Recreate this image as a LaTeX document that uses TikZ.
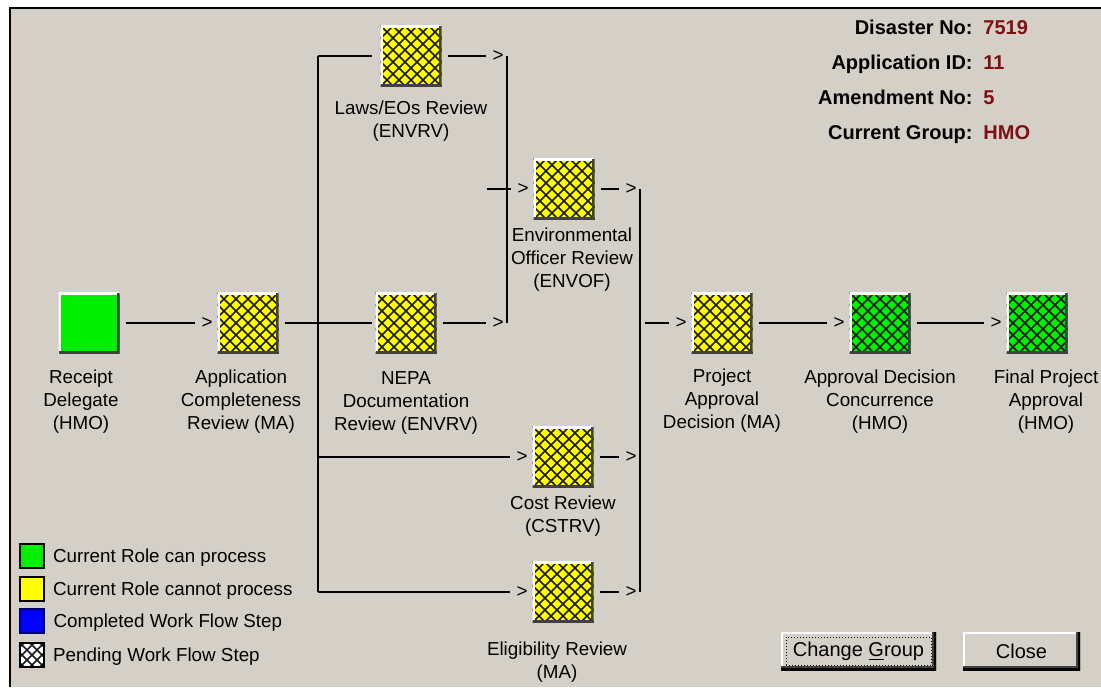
\documentclass[tikz,border=0pt]{standalone}
\usepackage{fontspec}
\setmainfont{Liberation Sans}
\usetikzlibrary{positioning}

\definecolor{winbg}{RGB}{212,208,200}
\definecolor{stepgreen}{RGB}{0,238,0}
\definecolor{stepyellow}{RGB}{255,255,0}
\definecolor{stepblue}{RGB}{0,0,255}
\definecolor{stepnavy}{RGB}{0,0,110}
\definecolor{shadowgray}{RGB}{64,64,64}
\definecolor{valred}{RGB}{128,16,16}

\newcommand{\stephatch}[1]{%
  \foreach \k in {-6,...,6}{%
    \draw[black!90, line width=0.85pt] ([shift={({\k*#1-24pt},-24pt)}]path picture bounding box.center) -- ++(48pt,48pt);
    \draw[black!90, line width=0.85pt] ([shift={({\k*#1-24pt},24pt)}]path picture bounding box.center) -- ++(48pt,-48pt);}}
\newcommand{\stepbevel}{%
  \draw[white, line width=2.5pt] (path picture bounding box.south west) -- (path picture bounding box.north west) -- (path picture bounding box.north east);
  \draw[shadowgray, line width=3pt] (path picture bounding box.north east) -- (path picture bounding box.south east) -- (path picture bounding box.south west);}
\newcommand{\btnbevel}{%
  \draw[white, line width=2pt] (path picture bounding box.south west) -- (path picture bounding box.north west) -- (path picture bounding box.north east);
  \draw[shadowgray, line width=4pt] (path picture bounding box.north east) -- (path picture bounding box.south east) -- (path picture bounding box.south west);
  \draw[black, line width=2pt] (path picture bounding box.north east) -- (path picture bounding box.south east) -- (path picture bounding box.south west);}

\begin{document}
\begin{tikzpicture}[x=0.5pt, y=-0.5pt, every node/.style={font=\fontsize{9.4}{11.5}\selectfont},
  stepbox/.style={minimum size=30.5pt, inner sep=0pt},
  plainstep/.style={stepbox, path picture={\stepbevel}},
  hatchstep/.style={stepbox, path picture={\stephatch{6pt}\stepbevel}},
  lbl/.style={align=center, inner sep=0pt},
  gt/.style={inner sep=0pt},
  link/.style={line width=0.75pt, shorten <=3pt, shorten >=3pt},
  wire/.style={line width=0.75pt},
  info/.style={font=\fontsize{10}{12}\selectfont\bfseries, inner sep=0pt, text height=7pt, text depth=0pt},
  swatch/.style={minimum size=12pt, inner sep=0pt, draw=black, line width=0.75pt},
  keytext/.style={inner sep=0pt, text height=6.8pt, text depth=0pt},
  btn/.style={font=\fontsize{10}{12}\selectfont, fill=winbg, minimum height=19pt, inner sep=0pt, path picture={\btnbevel}}]
	\useasboundingbox (0,0) rectangle (1101,687);
	\fill[white] (0,0) rectangle (1101,687);
	\fill[winbg] (10,8) rectangle (1101,687);
	\draw[line width=1pt] (10,687) -- (10,8) -- (1101,8);
	% steps
	\node[plainstep, fill=stepgreen] (rd) at (89,323) {};
	\node[hatchstep, fill=stepyellow] (acr) at (248,323) {};
	\node[hatchstep, fill=stepyellow] (laws) at (411,56) {};
	\node[hatchstep, fill=stepyellow] (nepa) at (406,323) {};
	\node[hatchstep, fill=stepyellow] (envof) at (564,189) {};
	\node[hatchstep, fill=stepyellow] (cost) at (563,457) {};
	\node[hatchstep, fill=stepyellow] (elig) at (563,592) {};
	\node[hatchstep, fill=stepyellow] (pad) at (722,323) {};
	\node[hatchstep, fill=stepgreen] (adc) at (880,323) {};
	\node[hatchstep, fill=stepgreen] (fpa) at (1037,323) {};
	\node[lbl, below=8pt of rd, xshift=-4pt] (rdL) {Receipt\\Delegate\\(HMO)};
	\node[lbl, below=8pt of acr, xshift=-3.5pt] (acrL) {Application\\Completeness\\Review (MA)};
	\node[lbl, below=7pt of laws] (lawsL) {Laws/EOs Review\\(ENVRV)};
	\node[lbl, below=8.5pt of nepa] (nepaL) {NEPA\\Documentation\\Review (ENVRV)};
	\node[lbl, below=4pt of envof, xshift=4pt] (envofL) {Environmental\\Officer Review\\(ENVOF)};
	\node[lbl, below=4pt of cost] (costL) {Cost Review\\(CSTRV)};
	\node[lbl, below=9.5pt of elig, xshift=-3pt] (eligL) {Eligibility Review\\(MA)};
	\node[lbl, below=7.5pt of pad] (padL) {Project\\Approval\\Decision (MA)};
	\node[lbl, below=8pt of adc] (adcL) {Approval Decision\\Concurrence\\(HMO)};
	\node[lbl, below=8pt of fpa, xshift=4.5pt] (fpaL) {Final Project\\Approval\\(HMO)};
	% junctions
	\coordinate (busTop) at (318,56);
	\coordinate (busCost) at (318,457);
	\coordinate (busBot) at (318,592);
	\coordinate (jLaws) at (507,56);
	\coordinate (jNepa) at (507,323);
	\coordinate (envStub) at (487,189);
	\coordinate (jEnv) at (640,189);
	\coordinate (jCost) at (640,457);
	\coordinate (jElig) at (640,592);
	\coordinate (padStub) at (645,323);
	% arrow marks
	\foreach \n in {acr,envof,cost,elig,pad,adc,fpa} {\node[gt, left=2pt of \n] (\n In) {>};}
	\foreach \n in {jLaws,jNepa,jEnv,jCost,jElig} {\node[gt, left=1.5pt of \n] (\n Out) {>};}
	% connectors
	\draw[link] (rd) -- (acrIn);
	\draw[link, shorten >=1.5pt] (acr) -- (nepa);
	\draw[wire] (busTop) -- (busBot);
	\draw[wire, shorten >=4pt] (busTop) -- (laws);
	\draw[link, shorten <=0pt] (busCost) -- (costIn);
	\draw[link, shorten <=0pt] (busBot) -- (eligIn);
	\draw[link] (laws) -- (jLawsOut);
	\draw[link] (nepa) -- (jNepaOut);
	\draw[wire] (jLaws) -- (jNepa);
	\draw[link, shorten <=0pt] (envStub) -- (envofIn);
	\draw[link] (envof) -- (jEnvOut);
	\draw[link] (cost) -- (jCostOut);
	\draw[link] (elig) -- (jEligOut);
	\draw[wire] (jEnv) -- (jElig);
	\draw[link, shorten <=0pt] (padStub) -- (padIn);
	\draw[link] (pad) -- (adcIn);
	\draw[link] (adc) -- (fpaIn);
	% header
	\foreach \t/\v/\y in {Disaster No:/7519/27, Application ID:/11/62, Amendment No:/5/97, Current Group:/HMO/132} {\node[info, anchor=east] (k\y) at (973,\y) {\t}; \node[info, text=valred, anchor=west] (v\y) at (983,\y) {\v};}
	% legend
	\node[swatch, fill=stepgreen] (sCan) at (32,556) {};
	\node[swatch, fill=stepyellow] (sCannot) at (32,589) {};
	\node[swatch, fill=stepblue, draw=stepnavy, line width=1.25pt] (sDone) at (32,621) {};
	\node[swatch, fill=white, path picture={\stephatch{5pt}}] (sPend) at (32,655) {};
	\node[keytext, right=4pt of sCan] (tCan) {Current Role can process};
	\node[keytext, right=4pt of sCannot] (tCannot) {Current Role cannot process};
	\node[keytext, right=4pt of sDone] (tDone) {Completed Work Flow Step};
	\node[keytext, right=4pt of sPend] (tPend) {Pending Work Flow Step};
	% buttons
	\node[btn, minimum width=77.5pt, path picture={\btnbevel\draw[densely dotted, line width=0.5pt] ([shift={(2.5pt,2.5pt)}]path picture bounding box.south west) rectangle ([shift={(-2.5pt,-2.5pt)}]path picture bounding box.north east);}] (chg) at (858.5,651) {Change \underline{G}roup};
	\node[btn, minimum width=58.5pt] (cls) at (1021.5,651) {Close};
\end{tikzpicture}
\end{document}
